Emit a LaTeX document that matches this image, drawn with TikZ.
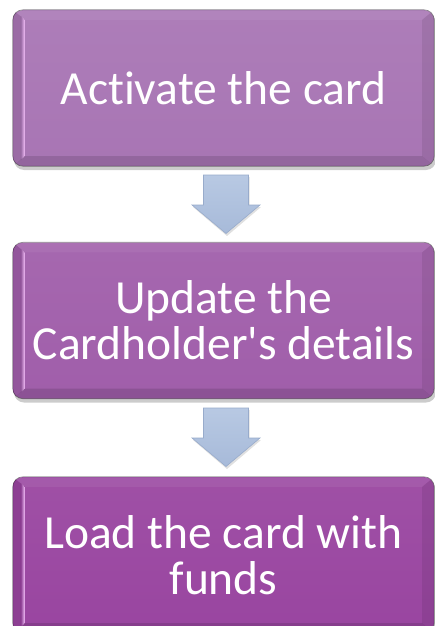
\documentclass[tikz,border=0pt]{standalone}
\usepackage{fontspec}
\setmainfont[Ligatures={NoCommon}]{Carlito}
\usetikzlibrary{calc}
\definecolor{boxA}{HTML}{A875B4}
\definecolor{boxB}{HTML}{A05EAA}
\definecolor{boxC}{HTML}{9945A0}
\definecolor{bevelpink}{HTML}{F3BEF9}
\definecolor{arrowfill}{HTML}{B8C9E3}
\definecolor{arrowdark}{HTML}{A7BAD9}
\definecolor{arrowline}{HTML}{98ABCB}
\tikzset{
  stepbox/.style={rounded corners=10pt, minimum width=421pt, minimum height=156pt,
    text=white, align=center, inner sep=0pt, font=\fontsize{47.5}{46}\selectfont},
  blockarrow/.style={top color=arrowfill, bottom color=arrowdark, draw=arrowline, line width=0.6pt, line join=miter},
  boxshadow/.style={fill=black, opacity=0.2, rounded corners=10pt}
}
\newcommand\bevelbox[4]{%
  % #1 name, #2 center y, #3 colour, #4 text
  \fill[boxshadow] (14,#2-78+3) rectangle (436,#2+78+4);
  \node[stepbox, top color=#3!94!white, bottom color=#3] (#1) at (223.5,#2) {#4};
  \begin{scope}
    \clip[rounded corners=10pt] (#1.north west) rectangle (#1.south east);
    \fill[#3!92!black] (#1.north west) -- ($(#1.north west)+(12,10)$) -- ($(#1.south west)+(12,-10)$) -- (#1.south west) -- cycle;
    \shade[left color=#3!92!black, right color=bevelpink] ($(#1.north west)+(8,6)$) -- ($(#1.north west)+(12,10)$) -- ($(#1.south west)+(12,-10)$) -- ($(#1.south west)+(8,-6)$) -- cycle;
    \fill[white, opacity=0.06] (#1.north west) -- (#1.north east) -- ($(#1.north east)+(-12,10)$) -- ($(#1.north west)+(12,10)$) -- cycle;
    \fill[black, opacity=0.08] (#1.north east) -- (#1.south east) -- ($(#1.south east)+(-12,-10)$) -- ($(#1.north east)+(-12,10)$) -- cycle;
    \fill[black, opacity=0.12] (#1.south west) -- ($(#1.south west)+(12,-10)$) -- ($(#1.south east)+(-12,-10)$) -- (#1.south east) -- cycle;
  \end{scope}
  \draw[black, opacity=0.4, line width=0.7pt, rounded corners=10pt] (#1.north west) rectangle (#1.south east);
}
\newcommand\blockdown[2]{%
  % #1 name of top coordinate, #2 top y
  \coordinate (#1) at (226,#2);
  \fill[black, opacity=0.12] ($(#1)+(-22.5+1,2)$) -- ($(#1)+(22.5+1,2)$) -- ($(#1)+(22.5+1,32)$) -- ($(#1)+(34+1,32)$) -- ($(#1)+(1,61)$) -- ($(#1)+(-34+1,32)$) -- ($(#1)+(-22.5+1,32)$) -- cycle;
  \path[blockarrow] ($(#1)+(-22.5,0)$) -- ($(#1)+(22.5,0)$) -- ($(#1)+(22.5,30)$) -- ($(#1)+(34,30)$) -- ($(#1)+(0,58.5)$) -- ($(#1)+(-34,30)$) -- ($(#1)+(-22.5,30)$) -- cycle;
}
\begin{document}
\begin{tikzpicture}[x=1pt,y=-1pt]
\useasboundingbox[fill=white] (0,0) rectangle (434,626);
\bevelbox{s1}{88}{boxA}{Activate the card}
\blockdown{a1}{175}
\bevelbox{s2}{320.5}{boxB}{Update the\\Cardholder\textquotesingle s details}
\blockdown{a2}{408}
\bevelbox{s3}{555}{boxC}{Load the card with\\funds}
\end{tikzpicture}
\end{document}
